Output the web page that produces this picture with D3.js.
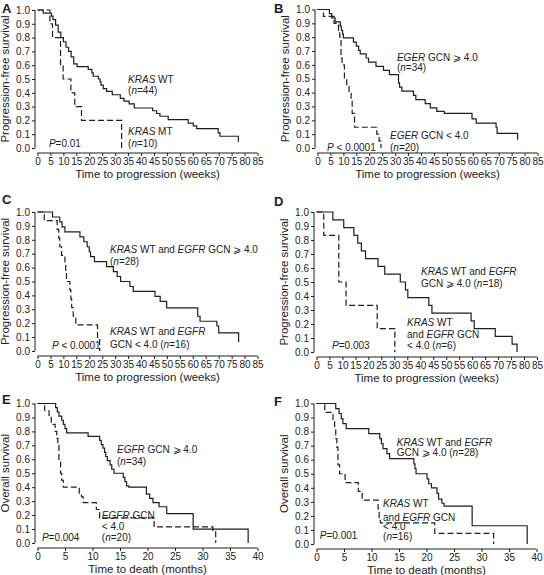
<!DOCTYPE html>
<html><head><meta charset="utf-8">
<script src="https://cdn.jsdelivr.net/npm/d3@7"></script>
<style>body{margin:0;background:#fff}svg{display:block}text{font-family:"Liberation Sans",Arial,sans-serif;fill:#222}</style>
</head><body>
<svg id="c" width="544" height="575"></svg>
<script>
// ---------- data: Kaplan-Meier step points [time, survival] ----------
const weekTicks = d3.range(0, 86, 5);
const monthTicks = d3.range(0, 41, 5);
const survTicks = d3.range(0, 11).map(d => d / 10);

const kmA_wt = [[0,1],[2.2,0.977],[5.4,0.955],[6,0.93],[7,0.89],[8,0.84],[9,0.80],[10,0.77],[11,0.73],[12,0.70],[13,0.66],[14,0.61],[15.3,0.59],[19.6,0.57],[21,0.545],[21.5,0.52],[23.5,0.50],[24.2,0.48],[24.5,0.455],[25.4,0.43],[26.7,0.41],[28.9,0.386],[32,0.36],[33.4,0.34],[35.4,0.32],[37.4,0.29],[44.5,0.27],[46,0.25],[47.3,0.23],[50.5,0.205],[58.2,0.18],[60.2,0.16],[61.5,0.14],[69.8,0.11],[70.5,0.085],[77.6,0.085],[77.6,0.045]];
const kmA_mt = [[0,1],[4.8,0.9],[5.8,0.8],[8.9,0.6],[9.9,0.5],[12.9,0.4],[14.4,0.3],[17,0.2],[32.5,0]];

const kmB_hi = [[0,1],[4.6,0.97],[5.5,0.94],[6.8,0.91],[8.8,0.88],[9.2,0.85],[9.7,0.82],[10,0.795],[13.9,0.765],[15,0.735],[15.9,0.705],[16.5,0.68],[18.8,0.65],[19.7,0.62],[22.6,0.59],[25.5,0.56],[27.8,0.53],[31.3,0.47],[31.7,0.44],[32.6,0.41],[37.1,0.38],[38,0.35],[41.6,0.32],[43.6,0.29],[46.1,0.265],[49,0.25],[59.7,0.21],[61.3,0.18],[69,0.15],[69.4,0.105],[77.3,0.105],[77.3,0.06]];
const kmB_lo = [[0,1],[2.3,0.95],[6.4,0.9],[8.1,0.85],[8.6,0.8],[9.1,0.65],[9.5,0.6],[10.4,0.5],[11.3,0.45],[12.2,0.4],[13,0.35],[13.4,0.25],[14.3,0.15],[22.9,0.1],[23.8,0.05],[24.5,0]];

const kmC_hi = [[0,1],[5.8,0.964],[8.6,0.929],[9.5,0.893],[10.6,0.857],[16.4,0.821],[17.9,0.786],[19.2,0.75],[20,0.714],[20.5,0.679],[22,0.643],[26.7,0.607],[29.3,0.571],[30.8,0.536],[32.1,0.50],[35.7,0.464],[37,0.429],[45.4,0.393],[47.4,0.357],[49.9,0.31],[61.9,0.25],[62.8,0.214],[69.3,0.18],[70,0.13],[77.7,0.13],[77.7,0.065]];
const kmC_lo = [[0,1],[2.6,0.9375],[7.6,0.875],[8.2,0.8125],[8.6,0.75],[9.3,0.6875],[10.6,0.625],[10.9,0.5625],[11.2,0.5],[12.5,0.4375],[12.9,0.375],[13.2,0.3125],[13.8,0.25],[14.8,0.1875],[23.2,0.09],[24,0]];

const kmD_hi = [[0,1],[6.3,0.944],[10.5,0.889],[14.4,0.833],[15.9,0.778],[17.3,0.722],[18.9,0.667],[23.7,0.611],[26.3,0.556],[32.3,0.5],[34.3,0.444],[35.2,0.389],[43.3,0.333],[44.5,0.278],[59.6,0.222],[60.8,0.167],[68.9,0.111],[75.4,0.056],[77.3,0]];
const kmD_lo = [[0,1],[2.8,0.833],[8.6,0.5],[11.4,0.333],[23.4,0.167],[30.2,0]];

const kmE_hi = [[0,1],[3.3,0.97],[3.6,0.94],[3.9,0.91],[4.4,0.88],[4.7,0.85],[5,0.82],[5.3,0.79],[9.2,0.765],[11.3,0.735],[11.6,0.705],[11.9,0.68],[12.2,0.65],[12.4,0.62],[12.7,0.59],[13.2,0.56],[13.5,0.53],[13.9,0.5],[15.6,0.47],[15.9,0.44],[16.2,0.41],[16.6,0.40],[19.8,0.35],[20.4,0.32],[21,0.29],[22.1,0.26],[23.5,0.21],[28.3,0.10],[38.3,0]];
const kmE_lo = [[0,1],[1.3,0.95],[2.1,0.9],[2.5,0.85],[3.2,0.8],[3.5,0.75],[3.7,0.7],[3.9,0.6],[4.2,0.5],[4.4,0.45],[4.7,0.4],[7.6,0.35],[8,0.33],[8.3,0.29],[10.7,0.24],[11.3,0.18],[21.2,0.115],[31.9,0.09],[32.4,0]];

const kmF_hi = [[0,1],[3.5,0.964],[4.1,0.929],[4.5,0.893],[4.8,0.857],[5.4,0.821],[9.5,0.786],[11.5,0.75],[11.8,0.714],[12.1,0.679],[12.8,0.643],[13.3,0.607],[17.7,0.571],[17.9,0.536],[18.1,0.5],[20.1,0.464],[20.4,0.429],[20.9,0.4],[21.9,0.36],[22.2,0.32],[22.8,0.29],[23.2,0.27],[28.3,0.13],[38.3,0]];
const kmF_lo = [[0,1],[1.5,0.9375],[3,0.875],[3.3,0.8125],[3.5,0.75],[3.7,0.6875],[3.9,0.5625],[4.2,0.5],[5.2,0.4375],[7.6,0.375],[8.3,0.3125],[11.2,0.25],[11.4,0.19],[11.6,0.15],[21.5,0.075],[32.2,0]];

// ---------- layout ----------
const panels = [
  {id:"A", x0:37.5, x1:257.5, yT:10, yB:148, xmax:85, ticks:weekTicks, ylab:"Progression-free survival", xlab:"Time to progression (weeks)", solid:kmA_wt, dashed:kmA_mt, lx:2, ly:13,
   notes:[["*KRAS* WT",35,0.50],["(*n*=44)",35,0.42],["*KRAS* MT",35,0.123],["(*n*=10)",35,0.036],["*P*=0.01",4.4,0.03]]},
  {id:"B", x0:317.5, x1:537.5, yT:9.5, yB:148, xmax:85, ticks:weekTicks, ylab:"Progression-free survival", xlab:"Time to progression (weeks)", solid:kmB_hi, dashed:kmB_lo, lx:274, ly:13,
   notes:[["*EGER* GCN ⩾ 4.0",30.7,0.657],["(*n*=34)",30.7,0.578],["*EGER* GCN < 4.0",28,0.087],["(*n*=20)",28,0.007],["*P* < 0.0001",3.7,0.007]]},
  {id:"C", x0:37.5, x1:257.5, yT:212, yB:351, xmax:85, ticks:weekTicks, ylab:"Progression-free survival", xlab:"Time to progression (weeks)", solid:kmC_hi, dashed:kmC_lo, lx:2, ly:204,
   notes:[["*KRAS* WT and *EGFR* GCN ⩾ 4.0",28,0.727],["(*n*=28)",28,0.647],["*KRAS* WT and *EGFR*",28,0.137],["GCN < 4.0 (*n*=16)",28,0.05],["*P* < 0.0001",5.6,0.036]]},
  {id:"D", x0:316.5, x1:537, yT:212, yB:352, xmax:85, ticks:weekTicks, ylab:"Progression-free survival", xlab:"Time to progression (weeks)", solid:kmD_hi, dashed:kmD_lo, lx:274, ly:206,
   notes:[["*KRAS* WT and *EGFR*",40.3,0.574],["GCN ⩾ 4.0 (*n*=18)",40.3,0.489],["*KRAS* WT",34.9,0.213],["and *EGFR* GCN",34.9,0.128],["< 4.0 (*n*=6)",34.9,0.05],["*P*=0.003",6,0.05]]},
  {id:"E", x0:37.5, x1:257.5, yT:403.5, yB:543, xmax:40, ticks:monthTicks, ylab:"Overall survival", xlab:"Time to death (months)", solid:kmE_hi, dashed:kmE_lo, lx:2, ly:404,
   notes:[["*EGFR* GCN ⩾ 4.0",14.45,0.667],["(*n*=34)",14.45,0.581],["*EGFR* GCN",11.7,0.20],["< 4.0",11.7,0.115],["(*n*=20)",11.7,0.043],["*P*=0.004",0.8,0.043]]},
  {id:"F", x0:316.5, x1:536.5, yT:403.5, yB:544, xmax:40, ticks:monthTicks, ylab:"Overall survival", xlab:"Time to death (months)", solid:kmF_hi, dashed:kmF_lo, lx:274, ly:406,
   notes:[["*KRAS* WT and *EGFR*",14.6,0.719],["GCN ⩾ 4.0 (*n*=28)",14.6,0.648],["*KRAS* WT",12.1,0.285],["and *EGFR* GCN",12.1,0.192],["< 4.0",12.1,0.121],["(*n*=16)",12.1,0.05],["*P*=0.001",0.6,0.064]]}
];

const svg = d3.select("#c");
const ink = "#1e1e1e";

function richText(sel, str) {
  str.split("*").forEach((seg, i) => {
    if (!seg) return;
    sel.append("tspan").attr("font-style", i % 2 ? "italic" : "normal").text(seg);
  });
}

panels.forEach(p => {
  const g = svg.append("g");
  const x = d3.scaleLinear().domain([0, p.xmax]).range([p.x0, p.x1]);
  const y = d3.scaleLinear().domain([0, 1]).range([p.yB, p.yT]);

  const ya = g.append("g").attr("transform", `translate(${p.x0 - 2.5},0)`)
    .call(d3.axisLeft(y).tickValues(survTicks).tickFormat(d3.format(".1f")).tickSizeOuter(0).tickSize(3).tickPadding(2));
  const xa = g.append("g").attr("transform", `translate(0,${p.yB + 5})`)
    .call(d3.axisBottom(x).tickValues(p.ticks).tickSizeOuter(0).tickSize(3).tickPadding(2));
  [ya, xa].forEach(a => {
    a.selectAll("path,line").attr("stroke", ink).attr("stroke-width", 1);
    a.selectAll("text").attr("font-size", 10).attr("fill", ink).style("font-family", '"Liberation Sans",Arial,sans-serif');
  });
  ya.select("path.domain").attr("d", `M0,${p.yB}V${p.yT}`);
  xa.select("path.domain").attr("d", `M${p.x0},0H${p.x1}`);

  g.append("text").attr("transform", `translate(${p.x0 - 28.5},${(p.yT + p.yB) / 2}) rotate(-90)`)
    .attr("text-anchor", "middle").attr("font-size", 11.5).text(p.ylab);
  g.append("text").attr("x", (p.x0 + p.x1) / 2).attr("y", p.yB + 30)
    .attr("text-anchor", "middle").attr("font-size", 11.5).text(p.xlab);
  g.append("text").attr("x", p.lx).attr("y", p.ly).attr("font-size", 13).attr("font-weight", "bold").text(p.id);

  const line = d3.line().x(d => x(d[0])).y(d => y(d[1])).curve(d3.curveStepAfter);
  g.append("path").datum(p.solid).attr("d", line).attr("fill", "none").attr("stroke", ink).attr("stroke-width", 1.2);
  g.append("path").datum(p.dashed).attr("d", line).attr("fill", "none").attr("stroke", ink).attr("stroke-width", 1.2).attr("stroke-dasharray", "6,3");

  p.notes.forEach(n => {
    const t = g.append("text").attr("x", x(n[1])).attr("y", y(n[2])).attr("dy", "0.35em").attr("font-size", 10);
    richText(t, n[0]);
  });
});
</script>
</body></html>
